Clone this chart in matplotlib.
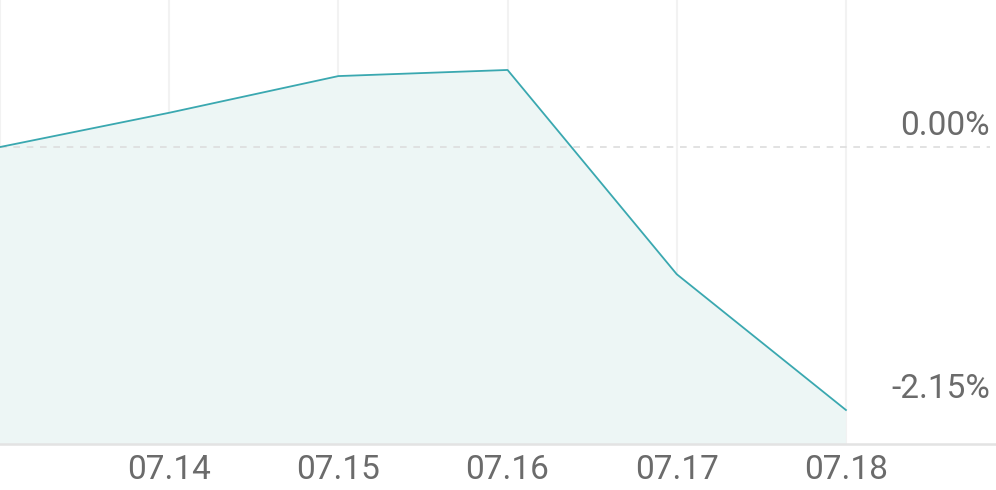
import matplotlib.pyplot as plt
from matplotlib.ticker import NullLocator

# dados
datas = ['07.13', '07.14', '07.15', '07.16', '07.17', '07.18']
retorno = [0.00, 0.28, 0.58, 0.63, -1.04, -2.15]
rotulos_y = [0.00, -2.15]

plt.rcParams['font.family'] = ['Roboto', 'DejaVu Sans']

fig = plt.figure(figsize=(9.96, 4.90), dpi=100)
ax = fig.add_axes([0, 46 / 490, 1, 444 / 490])

x = list(range(len(datas)))
cor_linha = '#3aa8b0'
ax.fill_between(x, retorno, -10, color='#edf6f5', zorder=1, linewidth=0)
ax.plot(x, retorno, color=cor_linha, linewidth=1.3, zorder=3)

ax.set_xlim(0, 5.887)
ax.set_ylim(-2.428, 1.202)

# grade vertical
for xi in x:
    ax.axvline(xi, color='#f2f2f2', linewidth=1.5, zorder=0.5)

# linha tracejada no zero
ax.plot([0, 5.85], [0, 0], color='#dddddd', linewidth=1.2, linestyle=(0, (4, 4)), zorder=2)

# rotulos do eixo y
for v in rotulos_y:
    ax.annotate(f'{v:.2f}%', xy=(1, v), xycoords=('axes fraction', 'data'),
                xytext=(-6, 5), textcoords='offset pixels', ha='right', va='bottom',
                fontsize=24, color='#6b6b6b')

ax.set_xticks(x[1:])
ax.set_xticklabels(datas[1:], fontsize=24, color='#6b6b6b')
ax.tick_params(axis='x', length=0, pad=7)
ax.yaxis.set_major_locator(NullLocator())

for lado in ['top', 'left', 'right']:
    ax.spines[lado].set_visible(False)
ax.spines['bottom'].set_color('#e3e3e3')
ax.spines['bottom'].set_linewidth(1.8)

fig.savefig('out.png', dpi=100)
